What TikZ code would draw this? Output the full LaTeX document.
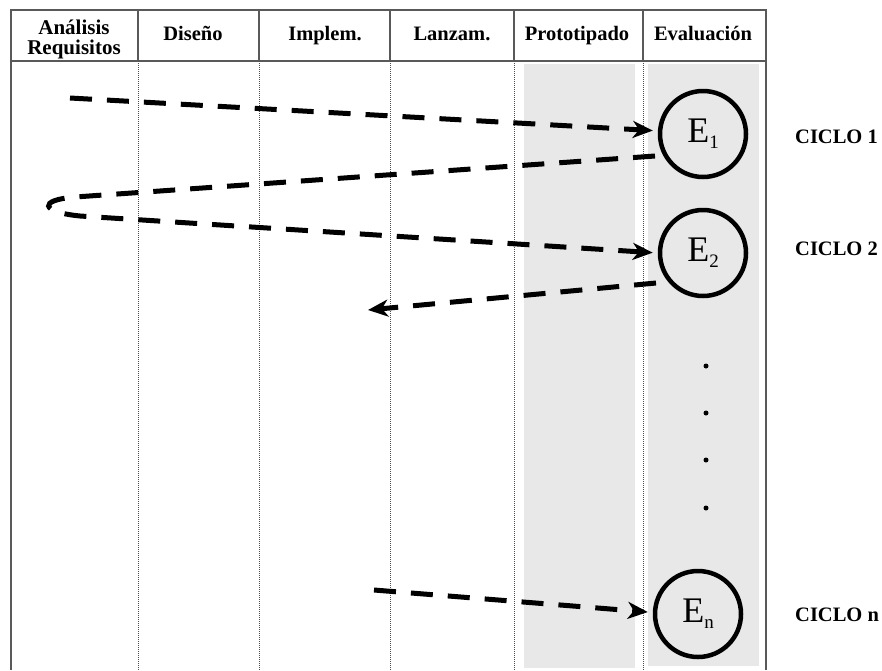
\documentclass[tikz,border=0pt]{standalone}
\usepackage{fontspec}
\setmainfont{Liberation Serif}
\usetikzlibrary{arrows.meta}

\begin{document}
\begin{tikzpicture}[x=1pt,y=-1pt,
  hdr/.style={font=\fontsize{20.5}{20}\selectfont\bfseries, align=center, inner sep=0},
  rule/.style={draw=black!65, line width=1.3pt},
  lane/.style={draw=black!70, line width=1pt, dash pattern=on 1pt off 1pt},
  band/.style={fill=black!9, draw=none},
  evalnode/.style={circle, draw, line width=4.5pt, minimum size=86pt, inner sep=0,
    font=\fontsize{36}{36}\selectfont},
  flow/.style={line width=5pt, dash pattern=on 22pt off 15pt,
    -{Stealth[length=20pt,width=17pt,inset=6pt]}, shorten >=5pt},
  back/.style={line width=5pt, dash pattern=on 22pt off 15pt,
    -{Stealth[length=20pt,width=17pt,inset=6pt]}},
  ciclo/.style={font=\fontsize{20.5}{21}\selectfont\bfseries, anchor=west, inner sep=0},
  dotmark/.style={circle, fill, inner sep=0, minimum size=5pt}
]
\useasboundingbox (0,0) rectangle (882,670);

% shaded lanes for prototyping and evaluation
\fill[band] (524,64) rectangle (635,668);
\fill[band] (648,64) rectangle (759,666);

% table frame and header row
\draw[rule] (11,670) -- (11,10) -- (766,10) -- (766,670);
\draw[rule] (11,61) -- (766,61);
\foreach \x in {138,259,390,514,643} {
  \draw[rule] (\x,10) -- (\x,61);
  \draw[lane] (\x,61) -- (\x,670);
}

% column titles
\node[hdr, font=\fontsize{21}{20}\selectfont\bfseries] (hA) at (74,39) {Análisis\\Requisitos};
\node[hdr, anchor=base] (hD) at (193,40) {Diseño};
\node[hdr, anchor=base] (hI) at (325,40) {Implem.};
\node[hdr, anchor=base] (hL) at (452,40) {Lanzam.};
\node[hdr, anchor=base] (hP) at (577,40) {Prototipado};
\node[hdr, anchor=base] (hE) at (703,40) {Evaluación};

% evaluation milestones
\node[evalnode] (E1) at (703,134) {E\raisebox{-6pt}{\fontsize{19}{19}\selectfont 1}};
\node[evalnode] (E2) at (703,253) {E\raisebox{-6pt}{\fontsize{19}{19}\selectfont 2}};
\node[evalnode] (En) at (698,614) {E\raisebox{-6pt}{\fontsize{19}{19}\selectfont n}};

% ellipsis between cycles
\node[dotmark] (d1) at (706,366) {};
\node[dotmark] (d2) at (706,413) {};
\node[dotmark] (d3) at (706,460) {};
\node[dotmark] (d4) at (706,508) {};

% cycle labels
\node[ciclo] (c1) at (795,137) {CICLO 1};
\node[ciclo] (c2) at (795,249) {CICLO 2};
\node[ciclo] (cn) at (795,615) {CICLO n};

% iteration flows
\coordinate (s1) at (70,98);
\coordinate (s2) at (655,156);
\coordinate (k1) at (75,197);
\coordinate (k2) at (80,216);
\coordinate (s3) at (656,283);
\coordinate (t3) at (368,310);
\coordinate (s4) at (374,590);

\draw[flow] (s1) -- (E1.176);
\draw[flow] (s2) -- (k1) .. controls (38,200) and (40,212) .. (k2) -- (E2.west);
\draw[back] (s3) -- (t3);
\draw[flow] (s4) -- (En.178);
\end{tikzpicture}
\end{document}
